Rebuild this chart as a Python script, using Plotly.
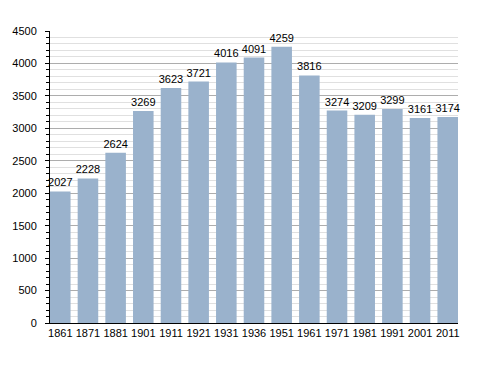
import plotly.graph_objects as go

years = ["1861", "1871", "1881", "1901", "1911", "1921", "1931", "1936",
         "1951", "1961", "1971", "1981", "1991", "2001", "2011"]
population = [2027, 2228, 2624, 3269, 3623, 3721, 4016, 4091,
              4259, 3816, 3274, 3209, 3299, 3161, 3174]
y_ticks = [0, 500, 1000, 1500, 2000, 2500, 3000, 3500, 4000, 4500]

xpos = list(range(len(years)))
gap = 0.257

fig = go.Figure(go.Bar(
    x=xpos, y=population,
    marker=dict(color="#9ab2cc", line=dict(width=0)),
    text=[str(v) for v in population],
    textposition="outside",
    constraintext="none",
    textfont=dict(size=11, color="black", family="Liberation Sans, Arial, sans-serif"),
    cliponaxis=False,
))

fig.update_layout(
    width=480, height=365,
    margin=dict(l=42, r=30, t=23, b=50),
    paper_bgcolor="white", plot_bgcolor="white",
    bargap=gap,
    showlegend=False,
    font=dict(family="Liberation Sans, Arial, sans-serif", size=11, color="black"),
)
fig.update_xaxes(
    range=[-0.5 + gap / 2, len(years) - 0.5 - gap / 2],
    tickvals=xpos, ticktext=years,
    showline=True, linecolor="black", linewidth=1,
    ticks="", showgrid=False, zeroline=False,
    tickfont=dict(size=11), automargin=False,
)
fig.update_yaxes(
    range=[0, 4500],
    tickvals=y_ticks,
    showline=True, linecolor="black", linewidth=1,
    ticks="outside", ticklen=4, tickcolor="black",
    ticklabelstandoff=6, automargin=False,
    showgrid=True, gridcolor="#adadad", gridwidth=1,
    zeroline=False,
    tickfont=dict(size=11),
    minor=dict(dtick=100, showgrid=True, gridcolor="#e0e0e0", gridwidth=1,
               ticks="outside", ticklen=3, tickcolor="black"),
)

fig.write_html("out.html")
